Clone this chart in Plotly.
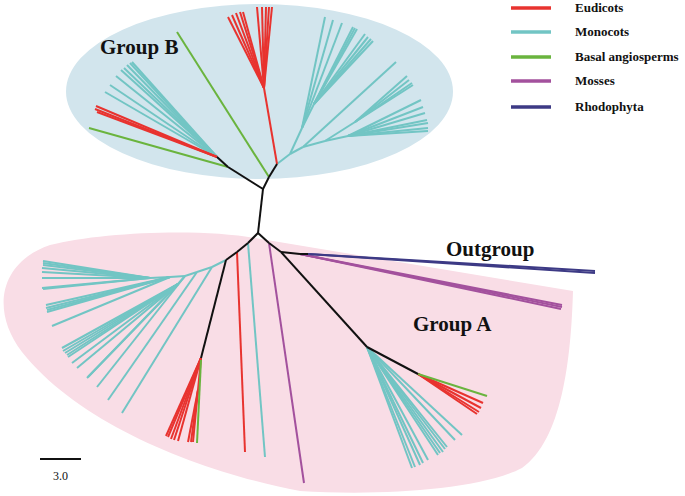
import plotly.graph_objects as go

# ---- legend / categories ----
categories = ["Eudicots", "Monocots", "Basal angiosperms", "Mosses", "Rhodophyta"]
colors = ["#e8332f", "#72c5c4", "#6ab43e", "#a3519d", "#3d3a85"]

# ---- tree nodes (layout units) ----
# backbone (black) paths
backbone_paths = [
    [(258, 233), (263, 189), (269, 177), (277, 164)],
    [(263, 189), (228, 167), (217, 157)],
    [(258, 233), (248, 243), (237, 252), (226, 260), (201, 358)],
    [(258, 233), (269, 243), (281, 252), (367, 347), (418, 374)],
    [(281, 252), (300, 254), (308, 254)],
]

# Group B
b_left_node = (217, 157)
b_left_eudicot_tips = [(96, 106), (95, 109), (97, 112)]
b_left_monocot_tips = [(105, 92), (110, 85), (116, 76), (121, 70), (124, 68), (127, 65), (130, 63), (132, 62)]
b_basal_edges = [((228, 167), (89, 128)), ((269, 177), (177, 32))]
b_top_trunk = [(277, 164), (264, 88)]
b_top_left_tips = [(228, 17), (232, 15), (236, 13), (240, 12), (243, 12)]
b_top_right_tips = [(257, 7), (262, 7), (266, 7), (269, 7), (272, 7)]
b_right_paths = [
    [(277, 164), (290, 154), (303, 147), (325, 141)],
    [(290, 154), (302, 128), (314, 104)],
]
b_right_tipsets = [
    ((302, 128), [(325, 17), (333, 20), (342, 23)]),
    ((314, 104), [(353, 27), (355, 28), (357, 29), (365, 34), (368, 37), (371, 39), (373, 41)]),
    ((303, 147), [(396, 62)]),
    ((325, 141), [(355, 122)]),
    ((355, 122), [(407, 76), (409, 80), (412, 83), (413, 85)]),
    ((325, 141), [(348, 136)]),
    ((348, 136), [(421, 100), (423, 107), (425, 113), (427, 120), (428, 123), (428, 128), (428, 131)]),
]

# Group A
a_left_trunk = [(226, 260), (212, 267), (197, 272), (185, 276), (170, 277), (150, 278)]
a_left_tipsets = [
    ((212, 267), [(122, 413)]),
    ((197, 272), [(108, 400)]),
    ((185, 276), [(97, 387)]),
    ((185, 276), [(178, 284)]),
    ((178, 284), [(62, 348), (63, 351), (65, 353), (67, 355), (68, 357), (72, 363), (77, 368), (87, 378), (88, 377)]),
    ((170, 277), [(46, 305), (46, 308), (47, 310), (47, 312), (52, 326)]),
    ((150, 278), [(43, 261), (43, 263), (43, 265), (42, 268), (42, 272), (42, 278), (42, 288), (43, 289)]),
]
a_red_fan_node = (201, 358)
a_red_fan_tips = [(166, 436), (168, 437), (171, 439), (174, 440), (178, 441)]
a_red_sub = [(201, 358), (198, 390)]
a_red_sub_tips = [(188, 442), (191, 442), (193, 442)]
a_basal_edges = [((201, 360), (197, 443)), ((418, 374), (487, 396))]
a_single_eudicot = [((237, 252), (245, 452))]
a_single_monocot = [((248, 243), (265, 457))]
a_moss_edges = [((269, 243), (304, 483))]
a_moss_node = (300, 254)
a_moss_tips = [(562, 305), (562, 307), (561, 309)]
a_right_node = (367, 347)
a_right_monocot_tips = [(462, 435), (455, 440), (447, 447), (445, 449), (443, 452), (440, 453),
                        (438, 455), (428, 460), (423, 463), (420, 465), (415, 467), (412, 468)]
a_right_eudicot_tips = [(483, 403), (481, 408), (479, 412), (477, 414)]
rhodo_node = (308, 254)
rhodo_tips = [(595, 271), (595, 273)]


def fan(node, tips):
    return [(node, t) for t in tips]


def path_edges(path):
    return [(path[i], path[i + 1]) for i in range(len(path) - 1)]


def to_xy(edges):
    xs, ys = [], []
    for (a, b) in edges:
        xs += [a[0], b[0], None]
        ys += [a[1], b[1], None]
    return xs, ys


black_edges = []
for p in backbone_paths:
    black_edges += path_edges(p)

eud = fan(b_left_node, b_left_eudicot_tips) + path_edges(b_top_trunk)
eud += fan(b_top_trunk[-1], b_top_left_tips) + fan(b_top_trunk[-1], b_top_right_tips)
eud += fan(a_red_fan_node, a_red_fan_tips) + path_edges(a_red_sub) + fan(a_red_sub[-1], a_red_sub_tips)
eud += a_single_eudicot + fan((418, 374), a_right_eudicot_tips)

mono = fan(b_left_node, b_left_monocot_tips)
for p in b_right_paths:
    mono += path_edges(p)
for n, t in b_right_tipsets:
    mono += fan(n, t)
mono += path_edges(a_left_trunk)
for n, t in a_left_tipsets:
    mono += fan(n, t)
mono += a_single_monocot + fan(a_right_node, a_right_monocot_tips)

basal = b_basal_edges + a_basal_edges
moss = a_moss_edges + fan(a_moss_node, a_moss_tips)
rhodo = fan(rhodo_node, rhodo_tips)

fig = go.Figure()

# background regions
fig.add_shape(type="circle", xref="x", yref="y", x0=66, x1=453, y0=4, y1=179,
              fillcolor="#d2e5ed", line=dict(width=0), layer="below")
fig.add_shape(type="path", xref="x", yref="y",
              path="M 255 238 L 573 291 C 571 360 562 440 522 468 C 480 490 380 496 300 491 "
                   "C 200 472 80 425 22 352 C -10 310 0 262 50 245 C 100 232 200 228 255 238 Z",
              fillcolor="#f9dde6", line=dict(width=0), layer="below")

for edges, col in [(mono, colors[1]), (eud, colors[0]), (basal, colors[2]),
                   (moss, colors[3]), (rhodo, colors[4]), (black_edges, "#111111")]:
    xs, ys = to_xy(edges)
    fig.add_trace(go.Scatter(x=xs, y=ys, mode="lines", line=dict(color=col, width=2),
                             hoverinfo="skip", showlegend=False))

# legend
leg_y = [8, 32, 57, 81, 107]
for name, col, y in zip(categories, colors, leg_y):
    fig.add_trace(go.Scatter(x=[511, 551], y=[y, y], mode="lines", line=dict(color=col, width=3.5),
                             hoverinfo="skip", showlegend=False))
    fig.add_annotation(x=573, y=y - 1, xref="x", yref="y", text="<b>%s</b>" % name, showarrow=False,
                       xanchor="left", yanchor="middle",
                       font=dict(family="Liberation Serif", size=13, color="#111111"))

# group labels
for txt, x, y in [("Group B", 139, 47), ("Outgroup", 490, 249), ("Group A", 452, 324)]:
    fig.add_annotation(x=x, y=y, xref="x", yref="y", text="<b>%s</b>" % txt, showarrow=False,
                       xanchor="center", yanchor="middle",
                       font=dict(family="Liberation Serif", size=21, color="#111111"))

# scale bar
scale_value = "3.0"
fig.add_trace(go.Scatter(x=[40, 81], y=[459, 459], mode="lines", line=dict(color="#111111", width=2),
                         hoverinfo="skip", showlegend=False))
fig.add_annotation(x=60, y=476, xref="x", yref="y", text=scale_value, showarrow=False,
                   font=dict(family="Liberation Serif", size=12, color="#111111"))

fig.update_layout(width=685, height=496, margin=dict(l=0, r=0, t=0, b=0),
                  paper_bgcolor="white", plot_bgcolor="white", showlegend=False)
fig.update_xaxes(range=[0, 685], visible=False, fixedrange=True)
fig.update_yaxes(range=[496, 0], visible=False, fixedrange=True)
fig.write_html("out.html", config={"displayModeBar": False})

# remove the default page margin so the figure sits at the window's top-left corner
with open("out.html", "r", encoding="utf-8") as f:
    html = f.read()
html = html.replace("<head>", "<head><style>html,body{margin:0;padding:0;overflow:hidden;}</style>", 1)
with open("out.html", "w", encoding="utf-8") as f:
    f.write(html)
